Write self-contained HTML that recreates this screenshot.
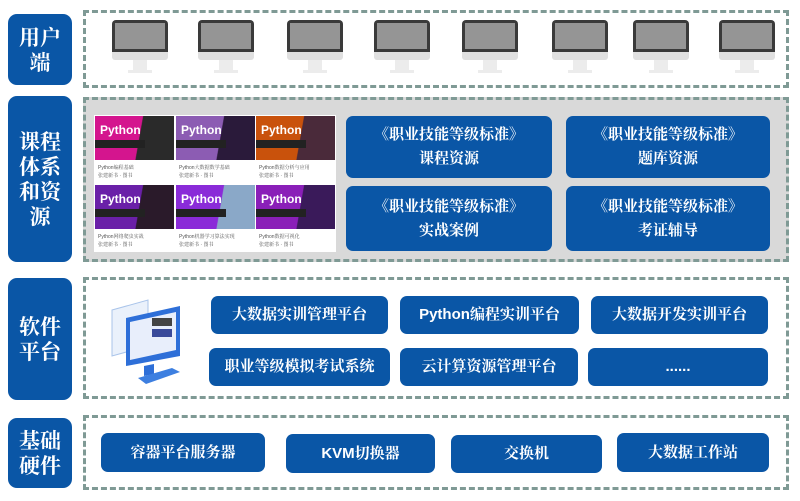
<!DOCTYPE html>
<html><head><meta charset="utf-8"><style>
*{margin:0;padding:0;box-sizing:border-box}
body{width:800px;height:501px;background:#fff;position:relative;overflow:hidden;font-family:"Liberation Sans","Noto Serif CJK SC","Noto Sans CJK SC",serif}
.a{position:absolute}
.lab{position:absolute;left:8px;width:64px;background:#0a56a6;border-radius:9px;color:#fff;font-size:21px;line-height:25px;text-align:center;display:flex;align-items:center;justify-content:center;font-family:"Noto Serif CJK SC",serif;font-weight:bold}
.dash{position:absolute;left:83px;width:706px;border:3px dashed #7f9a95}
.b{position:absolute;background:#0a56a6;border-radius:7px;color:#fff;font-size:15px;display:flex;align-items:center;justify-content:center;text-align:center;font-family:"Liberation Sans","Noto Serif CJK SC",serif;font-weight:bold;line-height:24px}
.mon{position:absolute;top:20px;width:56px;height:56px}
.mon .s{position:absolute;left:0;top:0;width:56px;height:32px;background:#3a3a3a;border-radius:4px 4px 0 0}
.mon .s i{position:absolute;left:3px;top:3px;right:3px;bottom:3px;background:#959595}
.mon .c{position:absolute;left:0;top:32px;width:56px;height:8px;background:#e0e0e0;border-radius:0 0 3px 3px}
.mon .n{position:absolute;left:21px;top:40px;width:14px;height:10px;background:#ececec}
.mon .f{position:absolute;left:16px;top:50px;width:24px;height:3px;background:#ececec}
.card{position:absolute;width:79px;height:67px;background:#fff}
.card .im{height:44px;position:relative;overflow:hidden}
.card .im b{position:absolute;left:5px;top:7px;color:#fff;font-size:12px;font-family:"Liberation Sans",sans-serif}
.card .im u{position:absolute;left:0;top:24px;width:50px;height:8px;background:#222;text-decoration:none}
.card .t{font-size:5px;color:#555;padding:4px 3px;line-height:8px}
</style></head><body>
<div class="lab" style="top:14px;height:71px">用户<br>端</div>
<div class="lab" style="top:96px;height:166px">课程<br>体系<br>和资<br>源</div>
<div class="lab" style="top:278px;height:122px">软件<br>平台</div>
<div class="lab" style="top:418px;height:70px">基础<br>硬件</div>

<div class="dash" style="top:10px;height:78px"></div>
<div class="dash" style="top:97px;height:165px;background:#d9d9d9"></div>
<div class="dash" style="top:277px;height:122px"></div>
<div class="dash" style="top:415px;height:75px"></div>

<div class="mon" style="left:112px"><div class="s"><i></i></div><div class="c"></div><div class="n"></div><div class="f"></div></div>
<div class="mon" style="left:198px"><div class="s"><i></i></div><div class="c"></div><div class="n"></div><div class="f"></div></div>
<div class="mon" style="left:287px"><div class="s"><i></i></div><div class="c"></div><div class="n"></div><div class="f"></div></div>
<div class="mon" style="left:374px"><div class="s"><i></i></div><div class="c"></div><div class="n"></div><div class="f"></div></div>
<div class="mon" style="left:462px"><div class="s"><i></i></div><div class="c"></div><div class="n"></div><div class="f"></div></div>
<div class="mon" style="left:552px"><div class="s"><i></i></div><div class="c"></div><div class="n"></div><div class="f"></div></div>
<div class="mon" style="left:633px"><div class="s"><i></i></div><div class="c"></div><div class="n"></div><div class="f"></div></div>
<div class="mon" style="left:719px"><div class="s"><i></i></div><div class="c"></div><div class="n"></div><div class="f"></div></div>

<div class="a" style="left:94px;top:115px;width:242px;height:137px;background:#fff"></div>
<div class="card" style="left:95px;top:116px"><div class="im" style="background:linear-gradient(100deg,#d4158e 55%,#2a2a2a 56%)"><b>Python</b><u></u></div><div class="t">Python编程基础<br>张建新书 · 图书</div></div>
<div class="card" style="left:176px;top:116px"><div class="im" style="background:linear-gradient(100deg,#8c5cb3 55%,#2a1a3a 56%)"><b>Python</b><u></u></div><div class="t">Python大数据数学基础<br>张建新书 · 图书</div></div>
<div class="card" style="left:256px;top:116px"><div class="im" style="background:linear-gradient(100deg,#c9520c 55%,#4a2a3a 56%)"><b>Python</b><u></u></div><div class="t">Python数据分析与应用<br>张建新书 · 图书</div></div>
<div class="card" style="left:95px;top:185px"><div class="im" style="background:linear-gradient(100deg,#6a20a8 55%,#2a1a2a 56%)"><b>Python</b><u></u></div><div class="t">Python网络爬虫实战<br>张建新书 · 图书</div></div>
<div class="card" style="left:176px;top:185px"><div class="im" style="background:linear-gradient(100deg,#8a2bd8 55%,#8aa8c8 56%)"><b>Python</b><u></u></div><div class="t">Python机器学习算法实现<br>张建新书 · 图书</div></div>
<div class="card" style="left:256px;top:185px"><div class="im" style="background:linear-gradient(100deg,#8a1fb8 55%,#3a1a5a 56%)"><b>Python</b><u></u></div><div class="t">Python数据可视化<br>张建新书 · 图书</div></div>

<div class="b" style="left:346px;top:116px;width:206px;height:62px">《职业技能等级标准》<br>课程资源</div>
<div class="b" style="left:566px;top:116px;width:204px;height:62px">《职业技能等级标准》<br>题库资源</div>
<div class="b" style="left:346px;top:186px;width:206px;height:65px">《职业技能等级标准》<br>实战案例</div>
<div class="b" style="left:566px;top:186px;width:204px;height:65px">《职业技能等级标准》<br>考证辅导</div>

<svg class="a" style="left:108px;top:298px" width="78" height="86">
<polygon points="4,12 40,2 40,48 4,58" fill="#eaf1fb" stroke="#a9c4ea"/>
<polygon points="18,20 72,8 72,58 18,68" fill="#2e6fd8"/>
<polygon points="22,24 68,14 68,52 22,62" fill="#e8eefb"/>
<rect x="44" y="20" width="20" height="8" fill="#444"/>
<rect x="44" y="31" width="20" height="8" fill="#3a4a9a"/>
<polygon points="36,68 46,66 46,76 36,78" fill="#2e6fd8"/>
<polygon points="30,80 64,70 72,74 38,86" fill="#3d7fe0"/>
</svg>

<div class="b" style="left:211px;top:296px;width:177px;height:38px">大数据实训管理平台</div>
<div class="b" style="left:400px;top:296px;width:179px;height:38px">Python编程实训平台</div>
<div class="b" style="left:591px;top:296px;width:177px;height:38px">大数据开发实训平台</div>
<div class="b" style="left:209px;top:348px;width:181px;height:38px">职业等级模拟考试系统</div>
<div class="b" style="left:400px;top:348px;width:178px;height:38px">云计算资源管理平台</div>
<div class="b" style="left:588px;top:348px;width:180px;height:38px">......</div>

<div class="b" style="left:101px;top:433px;width:164px;height:39px">容器平台服务器</div>
<div class="b" style="left:286px;top:434px;width:149px;height:39px">KVM切换器</div>
<div class="b" style="left:451px;top:435px;width:151px;height:38px">交换机</div>
<div class="b" style="left:617px;top:433px;width:152px;height:39px">大数据工作站</div>
</body></html>
